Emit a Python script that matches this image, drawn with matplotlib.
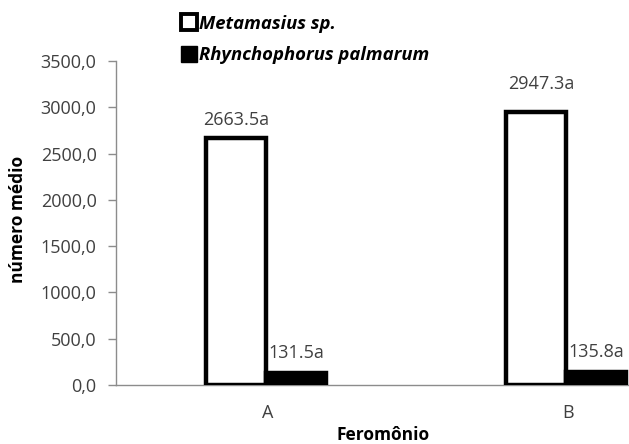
import matplotlib
matplotlib.use("Agg")
import matplotlib.pyplot as plt
import numpy as np
from matplotlib.lines import Line2D

categories = ["A", "B"]
metamasius = [2663.5, 2947.3]
rhynchophorus = [131.5, 135.8]
labels_meta = ["2663.5a", "2947.3a"]
labels_rhyn = ["131.5a", "135.8a"]
series_names = ["Metamasius sp.", "Rhynchophorus palmarum"]
yticks = [0, 500, 1000, 1500, 2000, 2500, 3000, 3500]

plt.rcParams['font.family'] = ['Open Sans', 'DejaVu Sans']

fig = plt.figure(figsize=(6.29, 4.44), dpi=100)
ax = fig.add_axes([116/629, 59/444, 600/629, 324/444])

x = np.arange(len(categories))
w = 0.2
lw = 3.2
ax.bar(x - w/2, metamasius, width=w, facecolor="white", edgecolor="black",
       linewidth=lw, zorder=3)
ax.bar(x + w/2, rhynchophorus, width=w, facecolor="black", edgecolor="black",
       linewidth=lw, zorder=3)

ax.set_xlim(-0.5, 1.5)
ax.set_ylim(0, 3500)
ax.set_yticks(yticks)
ax.set_yticklabels([f"{v:.1f}".replace(".", ",") for v in yticks])
ax.set_xticks(x + 0.007)
ax.set_xticklabels(categories)

txtc = "#404040"
fs = 13
ax.tick_params(axis="y", length=6, width=1, color="#8c8c8c", pad=8,
               labelsize=fs, labelcolor=txtc)
ax.tick_params(axis="x", length=0, pad=14, labelsize=fs, labelcolor=txtc)

for s in ["top", "right"]:
    ax.spines[s].set_visible(False)
for s in ["left", "bottom"]:
    ax.spines[s].set_color("#8c8c8c")
    ax.spines[s].set_linewidth(1)

meta_off = [(0, 7), (4, 14)]
for i, (v, lab) in enumerate(zip(metamasius, labels_meta)):
    ax.annotate(lab, (x[i] - w/2, v), xytext=meta_off[i], textcoords="offset points",
                ha="center", va="bottom", fontsize=fs, color=txtc)
for i, (v, lab) in enumerate(zip(rhynchophorus, labels_rhyn)):
    ax.annotate(lab, (x[i] + w/2, v), xytext=(0, 8), textcoords="offset points",
                ha="center", va="bottom", fontsize=fs, color=txtc)

ax.set_ylabel("número médio", fontsize=12.5, fontweight="bold", color="black")
ax.yaxis.set_label_coords(-0.148, 0.51)
ax.set_xlabel("Feromônio", fontsize=12.5, fontweight="bold", color="black")
ax.xaxis.set_label_coords(0.445, -0.128)

handles = [
    Line2D([0], [0], marker="s", linestyle="none", markersize=12,
           markerfacecolor="white", markeredgecolor="black", markeredgewidth=2.8),
    Line2D([0], [0], marker="s", linestyle="none", markersize=12,
           markerfacecolor="black", markeredgecolor="black"),
]
leg = fig.legend(handles, series_names, loc="upper left",
                 bbox_to_anchor=(165/629, 1.0 + 2/444), frameon=False,
                 handlelength=0.8, handletextpad=0.15, labelspacing=0.75,
                 prop={"style": "italic", "weight": "bold", "size": 13.3})

fig.savefig("out.png", dpi=100)
